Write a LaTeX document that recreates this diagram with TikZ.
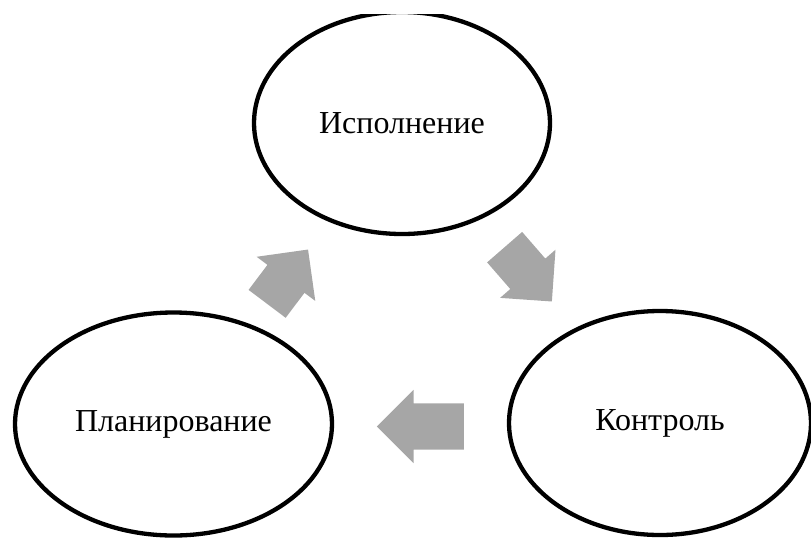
\documentclass[tikz,border=0pt]{standalone}
\usepackage{fontspec}
\setmainfont{Liberation Serif}
\usetikzlibrary{shapes.geometric, shapes.arrows}
\definecolor{arrowgray}{RGB}{166,166,166}
\tikzset{
  stage/.style={draw, ellipse, line width=4.3pt, inner sep=0pt, font=\fontsize{32}{38}\selectfont},
  cyclearrow/.style={single arrow, fill=arrowgray, draw=none, inner xsep=0pt, inner ysep=23pt,
    single arrow head extend=13.5pt, single arrow tip angle=90, anchor=tail}
}

\begin{document}
\begin{tikzpicture}[x=1pt, y=-1pt]
  \useasboundingbox (0,0) rectangle (811,539);
  \clip (0,14) rectangle (811,539);

  % stages of the cycle
  \node[stage, minimum width=296pt, minimum height=222pt] (exec) at (402,123) {Исполнение};
  \node[stage, minimum width=317pt, minimum height=223pt] (plan) at (173.5,424) {Планирование};
  \node[stage, minimum width=302pt, minimum height=224pt] (ctrl) at (660,423) {Контроль};

  % arrows between them
  \node[cyclearrow, minimum height=68pt, rotate=53] (planexec) at (267,304) {};
  \node[cyclearrow, minimum height=72pt, rotate=-49] (execctrl) at (504.5,247) {};
  \node[cyclearrow, minimum height=87pt, rotate=180] (ctrlplan) at (464,426.5) {};
\end{tikzpicture}
\end{document}
